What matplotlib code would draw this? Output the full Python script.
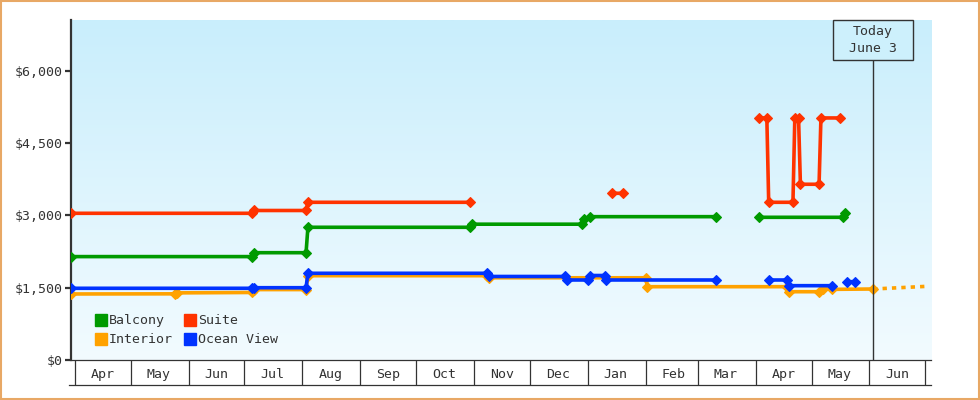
import matplotlib
matplotlib.use("Agg")
import matplotlib.pyplot as plt
import matplotlib.dates as mdates
import numpy as np
import pandas as pd
from matplotlib.lines import Line2D
from matplotlib.patches import Rectangle
from matplotlib.colors import LinearSegmentedColormap
from matplotlib.ticker import FuncFormatter

nan = np.nan

# fare history per cabin type (nan = no price published -> gap)
suite_dates = ["2014-03-30", "2014-07-05", "2014-07-06", "2014-08-03", "2014-08-04", "2014-10-30", "2014-10-30",
               "2015-01-14", "2015-01-20", "2015-01-20",
               "2015-04-03", "2015-04-07", "2015-04-08", "2015-04-21", "2015-04-22", "2015-04-24", "2015-04-25",
               "2015-05-05", "2015-05-06", "2015-05-16"]
suite_price = [3042, 3042, 3100, 3100, 3270, 3270, nan,
               3457, 3457, nan,
               5019, 5019, 3270, 3270, 5019, 5019, 3644,
               3644, 5019, 5019]

balcony_dates = ["2014-03-30", "2014-07-05", "2014-07-06", "2014-08-03", "2014-08-04", "2014-10-30", "2014-10-31",
                 "2014-12-29", "2014-12-30", "2015-01-02", "2015-03-11", "2015-03-11",
                 "2015-04-03", "2015-05-18", "2015-05-19"]
balcony_price = [2144, 2144, 2225, 2225, 2752, 2752, 2816,
                 2816, 2914, 2972, 2972, nan,
                 2959, 2959, 3055]

interior_dates = ["2014-03-30", "2014-05-25", "2014-05-26", "2014-07-05", "2014-07-06", "2014-08-03", "2014-08-04",
                  "2014-11-08", "2014-11-09", "2015-02-01", "2015-02-02", "2015-04-18", "2015-04-19",
                  "2015-05-05", "2015-05-07", "2015-05-12", "2015-06-03"]
interior_price = [1369, 1372, 1392, 1400, 1460, 1460, 1748,
                  1748, 1705, 1705, 1520, 1520, 1416,
                  1416, 1472, 1465, 1472]

# projected interior fare after today
proj_dates = ["2015-06-03", "2015-07-02"]
proj_price = [1472, 1528]

ocean_dates = ["2014-03-30", "2014-07-05", "2014-07-06", "2014-08-03", "2014-08-04", "2014-11-08", "2014-11-09",
               "2014-12-20", "2014-12-21", "2015-01-01", "2015-01-02", "2015-01-10", "2015-01-11", "2015-03-11",
               "2015-03-11", "2015-04-08", "2015-04-18", "2015-04-19", "2015-05-12", "2015-05-12",
               "2015-05-20", "2015-05-24"]
ocean_price = [1487, 1487, 1499, 1499, 1798, 1798, 1732,
               1732, 1659, 1659, 1752, 1752, 1659, 1659,
               nan, 1659, 1659, 1541, 1541, nan,
               1624, 1624]

today = "2015-06-03"
today_label = "Today\nJune 3"
x_start, x_end = "2014-03-30", "2015-07-04"
y_max = 7050
y_ticks = [0, 1500, 3000, 4500, 6000]

GREEN, RED, ORANGE, BLUE = "#009a00", "#ff3300", "#ffa200", "#0033ff"
INK = "#333333"

plt.rcParams["font.family"] = ["DejaVu Sans Mono"]
plt.rcParams["font.size"] = 9.5

fig = plt.figure(figsize=(9.8, 4), dpi=100)
ax = fig.add_axes([71 / 980, 40 / 400, 860 / 980, 340 / 400])

# vertical sky gradient behind the plot
sky = LinearSegmentedColormap.from_list("sky", ["#f2fbff", "#c9eefc"])
grad = np.linspace(0, 1, 256).reshape(-1, 1)
ax.imshow(grad, extent=[0, 1, 0, 1], origin="lower", transform=ax.transAxes,
          aspect="auto", cmap=sky, zorder=0)

series = [
    (suite_dates, suite_price, RED, 3),
    (balcony_dates, balcony_price, GREEN, 3),
    (interior_dates, interior_price, ORANGE, 4),
    (ocean_dates, ocean_price, BLUE, 5),
]
for d, p, c, z in series:
    ax.plot(pd.to_datetime(d), p, color=c, lw=2.6, marker="D", ms=5, mew=0.8,
            mec=c, zorder=z)

ax.plot(pd.to_datetime(proj_dates), proj_price, color=ORANGE, lw=2.6,
        dashes=(1.2, 1.4), zorder=4)

ax.set_xlim(pd.Timestamp(x_start), pd.Timestamp(x_end))
ax.set_ylim(0, y_max)

# today marker with its label box
t = mdates.date2num(pd.Timestamp(today))
box_top = 1.0
box_bot = 1 - 40 / 340
ax.plot([t, t], [0, box_bot], transform=ax.get_xaxis_transform(), color=INK, lw=1, zorder=6)
ax.add_patch(Rectangle((t - 21.5, box_bot), 43, box_top - box_bot, transform=ax.get_xaxis_transform(),
                       fc="#cdf0fc", ec=INK, lw=1, zorder=6, clip_on=False))
ax.text(t, (box_top + box_bot) / 2, today_label, transform=ax.get_xaxis_transform(),
        ha="center", va="center", color=INK, zorder=7, linespacing=1.35)

# axes styling
for s in ["top", "right"]:
    ax.spines[s].set_visible(False)
ax.spines["left"].set_color(INK)
ax.spines["left"].set_linewidth(1.6)
ax.spines["bottom"].set_color(INK)
ax.spines["bottom"].set_linewidth(0.9)

ax.set_yticks(y_ticks)
ax.yaxis.set_major_formatter(FuncFormatter(lambda v, pos: "${:,.0f}".format(v)))
ax.tick_params(axis="y", length=4, width=1.6, color=INK, labelcolor=INK, pad=2)

ax.xaxis.set_major_locator(mdates.MonthLocator())
ax.xaxis.set_minor_locator(mdates.MonthLocator(bymonthday=16))
ax.xaxis.set_major_formatter(plt.NullFormatter())
ax.xaxis.set_minor_formatter(mdates.DateFormatter("%b"))
ax.tick_params(axis="x", which="major", length=18, width=0.9, color=INK)
ax.tick_params(axis="x", which="minor", length=0, pad=6, labelcolor=INK)

# line closing the month boxes
ax.plot([-0.002, 1], [-18 / 0.72 / 340] * 2, transform=ax.transAxes, color=INK,
        lw=0.9, clip_on=False)

handles = [Line2D([], [], marker="s", ls="none", color=c, ms=8) for c in [GREEN, ORANGE, RED, BLUE]]
ax.legend(handles, ["Balcony", "Interior", "Suite", "Ocean View"], ncol=2, loc="lower left",
          bbox_to_anchor=(0.012, 0.005), frameon=False, handletextpad=0.0, columnspacing=0.7,
          labelspacing=0.45, handlelength=1.2, labelcolor=INK)

# orange frame around the whole image
fig.patches.append(Rectangle((0.001, 0.002), 0.998, 0.996, transform=fig.transFigure,
                             fill=False, ec="#e8a865", lw=1.5))

fig.savefig("out.png", dpi=100)
